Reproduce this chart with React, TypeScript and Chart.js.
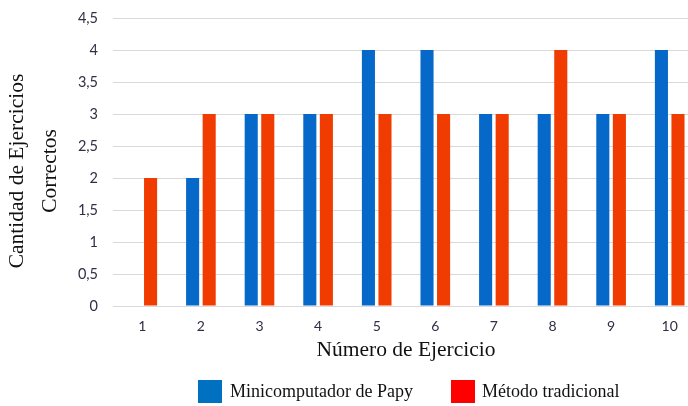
import React, { useEffect, useRef } from "react";
import { Chart, registerables } from "chart.js";

Chart.register(...registerables);

const categories = ["1", "2", "3", "4", "5", "6", "7", "8", "9", "10"];
const miniValues = [0, 2, 3, 3, 4, 4, 3, 3, 3, 4];
const tradValues = [2, 3, 3, 3, 3, 3, 3, 4, 3, 3];
const yTickLabels = ["0", "0,5", "1", "1,5", "2", "2,5", "3", "3,5", "4", "4,5"];
const seriesNames = ["Minicomputador de Papy", "Método tradicional"];
const yTitleLines = ["Cantidad de Ejercicios", "Correctos"];
const xTitle = "Número de Ejercicio";

const BAR_BLUE = "#0668C8";
const BAR_RED = "#F03C00";
const LEG_BLUE = "#0070C0";
const LEG_RED = "#FF0000";
const SERIF = "'Liberation Serif', 'Times New Roman', serif";
const TICK_FONT = "Lato, 'Open Sans', sans-serif";
const TICK_COLOR = "#2f2f45";

const yTitlePlugin = {
  id: "yTitlePlugin",
  afterDraw(chart: any) {
    const { ctx, chartArea } = chart;
    const cy = (chartArea.top + chartArea.bottom) / 2 + 9;
    ctx.save();
    ctx.fillStyle = "#111111";
    ctx.font = `21.5px ${SERIF}`;
    ctx.textAlign = "center";
    ctx.textBaseline = "middle";
    const xs = [chartArea.left - 96, chartArea.left - 63];
    yTitleLines.forEach((line, i) => {
      ctx.save();
      ctx.translate(xs[i], cy);
      ctx.rotate(-Math.PI / 2);
      ctx.fillText(line, 0, 0);
      ctx.restore();
    });
    ctx.restore();
  },
};

export default function App() {
  const ref = useRef<HTMLCanvasElement | null>(null);

  useEffect(() => {
    if (!ref.current) return;
    const chart = new Chart(ref.current, {
      type: "bar",
      data: {
        labels: categories,
        datasets: [
          {
            label: seriesNames[0],
            data: miniValues,
            backgroundColor: BAR_BLUE,
            borderWidth: 0,
            categoryPercentage: 0.565,
            barPercentage: 0.79,
          },
          {
            label: seriesNames[1],
            data: tradValues,
            backgroundColor: BAR_RED,
            borderWidth: 0,
            categoryPercentage: 0.565,
            barPercentage: 0.79,
          },
        ],
      },
      plugins: [yTitlePlugin],
      options: {
        responsive: false,
        animation: false,
        devicePixelRatio: 1,
        layout: { padding: { top: 18, bottom: 39, left: 0, right: 0 } },
        plugins: {
          legend: { display: false },
          tooltip: { enabled: false },
          title: { display: false },
        },
        scales: {
          x: {
            grid: { display: false, drawTicks: false },
            border: { display: false },
            ticks: {
              color: TICK_COLOR,
              font: { family: TICK_FONT, size: 14 },
              padding: 12,
            },
            title: {
              display: true,
              text: xTitle,
              color: "#111111",
              font: { family: SERIF, size: 21.5 },
              padding: { top: 4, bottom: 4 },
            },
            afterFit(scale: any) {
              scale.height = 61;
            },
          },
          y: {
            min: 0,
            max: 4.5,
            grid: { color: "#D9D9D9", lineWidth: 1, drawTicks: false },
            border: { display: false },
            ticks: {
              stepSize: 0.5,
              color: TICK_COLOR,
              font: { family: TICK_FONT, size: 14.5 },
              padding: 15,
              callback: (_v: any, i: number) => yTickLabels[i],
            },
            afterFit(scale: any) {
              scale.width = 113;
              scale.paddingTop = 0;
              scale.paddingBottom = 0;
            },
          },
        },
      },
    });
    return () => chart.destroy();
  }, []);

  const legendText: React.CSSProperties = {
    position: "absolute",
    top: 380,
    height: 23,
    lineHeight: "23px",
    fontFamily: SERIF,
    fontSize: 18,
    color: "#111111",
    whiteSpace: "nowrap",
  };
  const box = (left: number, color: string): React.CSSProperties => ({
    position: "absolute",
    left,
    top: 380,
    width: 24,
    height: 23,
    background: color,
  });

  return (
    <div
      style={{
        position: "absolute",
        left: 0,
        top: 0,
        width: 688,
        height: 406,
        overflow: "hidden",
        background: "#ffffff",
      }}
    >
      <canvas
        ref={ref}
        width={699}
        height={406}
        style={{ display: "block", width: 699, height: 406 }}
      />
      <div style={box(198, LEG_BLUE)} />
      <div style={{ ...legendText, left: 230 }}>{seriesNames[0]}</div>
      <div style={box(451, LEG_RED)} />
      <div style={{ ...legendText, left: 482 }}>{seriesNames[1]}</div>
    </div>
  );
}
